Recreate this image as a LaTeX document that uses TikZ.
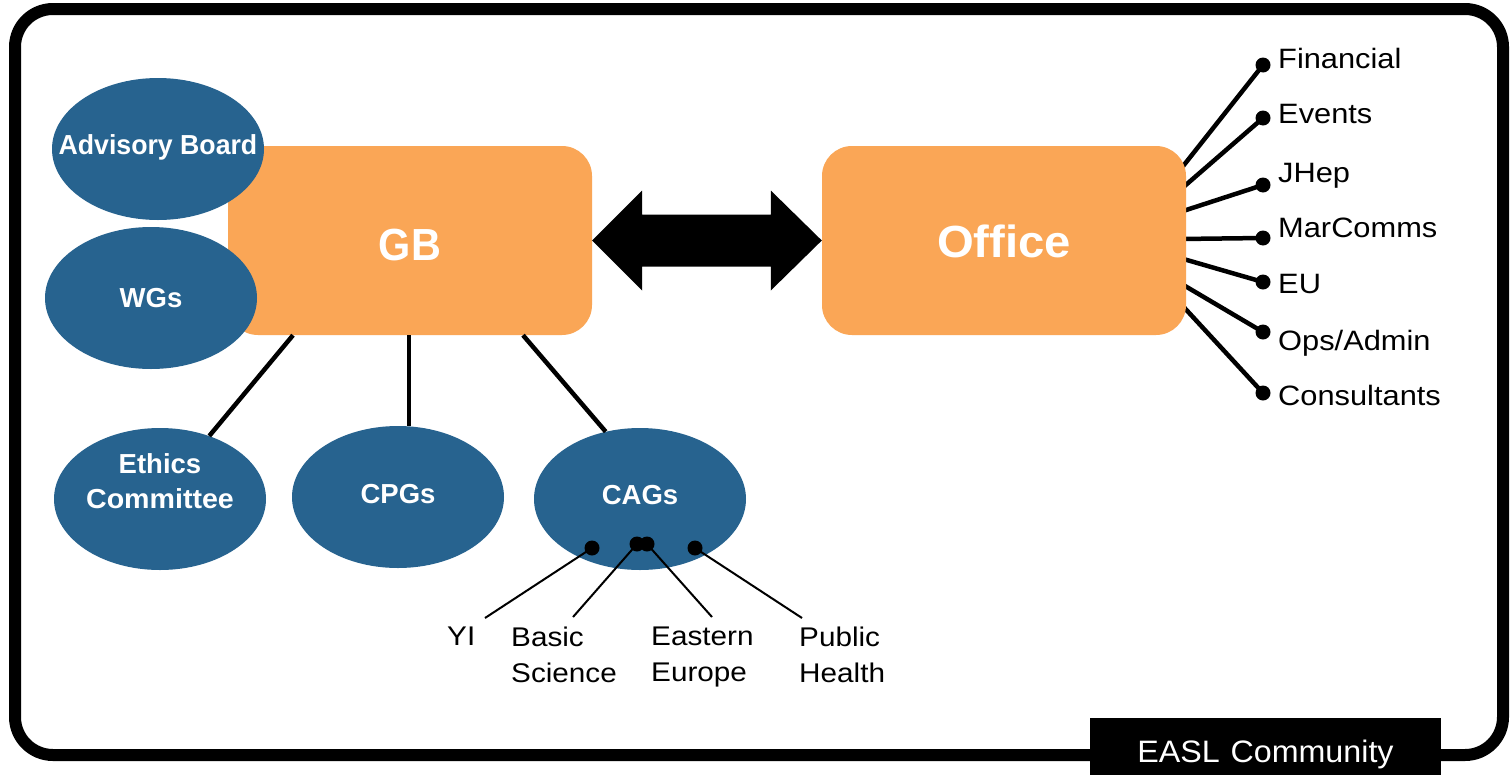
\documentclass[tikz,border=0pt]{standalone}
\usepackage{fontspec}
\setmainfont{Liberation Sans}
\usetikzlibrary{shapes.geometric,calc}
\definecolor{boxorange}{RGB}{250,166,86}
\definecolor{ellblue}{RGB}{39,99,143}
\newcommand{\hw}[1]{\scalebox{1.1}[1]{#1}}
\begin{document}
\begin{tikzpicture}[x=1pt,y=-1pt,
  orgbox/.style={fill=boxorange, rounded corners=30pt, minimum width=364pt, minimum height=189pt, inner sep=0pt, text=white, font=\fontsize{45}{54}\selectfont\bfseries},
  blob/.style={ellipse, fill=ellblue, minimum width=212pt, minimum height=142pt, inner sep=0pt},
  blobtext/.style={text=white, font=\fontsize{27.5}{34.5}\selectfont\bfseries, align=center, inner sep=0pt},
  link/.style={line width=4.5pt},
  cagline/.style={line width=2pt},
  dotnode/.style={circle, fill=black, minimum size=15pt, inner sep=0pt},
  lbl/.style={font=\fontsize{28}{36}\selectfont, anchor=base west, inner sep=0pt},
  sublbl/.style={font=\fontsize{27}{36}\selectfont, anchor=north west, inner sep=0pt, align=left},
  frame/.style={line width=12pt, rounded corners=38pt}
]
\useasboundingbox (0,0) rectangle (1510,774);
\fill[white] (0,0) rectangle (1510,774);
% outer frame
\draw[frame] (15,9) rectangle (1503,755);
\node[fill=black, text=white, anchor=base, inner sep=0pt, text height=44pt, text depth=20pt, text width=351pt, align=center, font=\fontsize{31}{36}\selectfont] (easl) at (1265.5,762) {\scalebox{1.04}[1]{EASL Community}};

% right list
\node[dotnode] (d1) at (1263,65) {};
\node[dotnode] (d2) at (1263,118) {};
\node[dotnode] (d3) at (1263,185) {};
\node[dotnode] (d4) at (1263,238) {};
\node[dotnode] (d5) at (1263,282) {};
\node[dotnode] (d6) at (1263,332) {};
\node[dotnode] (d7) at (1263,393) {};
\node[lbl] (l1) at (1278,68) {\hw{Financial}};
\node[lbl] (l2) at (1278,123) {\hw{Events}};
\node[lbl] (l3) at (1278,182) {\hw{JHep}};
\node[lbl] (l4) at (1278,237) {\hw{MarComms}};
\node[lbl] (l5) at (1278,293) {\hw{EU}};
\node[lbl] (l6) at (1278,350) {\hw{Ops/Admin}};
\node[lbl] (l7) at (1278,405) {\hw{Consultants}};

% boxes positions (for connectors drawn under boxes)
\coordinate (gbc) at (410,240.5);
\coordinate (offc) at (1004,240.5);
\draw[link] ($(offc)+(176,-70.5)$) -- (d1.center);
\draw[link] ($(offc)+(176,-50.5)$) -- (d2.center);
\draw[link] ($(offc)+(176,-28.5)$) -- (d3.center);
\draw[link] ($(offc)+(176,-1.5)$) -- (d4.center);
\draw[link] ($(offc)+(176,17.5)$) -- (d5.center);
\draw[link] ($(offc)+(176,42.5)$) -- (d6.center);
\draw[link] ($(offc)+(176,62.5)$) -- (d7.center);

% boxes
\node[orgbox] (gb) at (gbc) {\raisebox{-20pt}[0pt][0pt]{\scalebox{0.92}[1]{GB}}};
\node[orgbox] (office) at (offc) {\raisebox{-17pt}[0pt][0pt]{\scalebox{1.05}[1]{Office}}};

% double arrow
\fill (gb.east) -- ($(gb.east)+(50,-50)$) -- ($(gb.east)+(50,-26)$)
  -- ($(office.west)+(-51,-26)$) -- ($(office.west)+(-51,-50)$) -- (office.west)
  -- ($(office.west)+(-51,50)$) -- ($(office.west)+(-51,26)$)
  -- ($(gb.east)+(50,26)$) -- ($(gb.east)+(50,50)$) -- cycle;

% ellipses
\node[blob, label={[blobtext, yshift=2pt]center:\scalebox{0.97}[1]{Advisory Board}}] (adv) at (158,149) {};
\node[blob, label={[blobtext]center:WGs}] (wgs) at (151,298) {};
\node[blob, label={[blobtext, yshift=18pt]center:Ethics\\\scalebox{1.04}[1]{Committee}}] (ethics) at (160,499) {};
\node[blob, label={[blobtext, yshift=3pt]center:CPGs}] (cpgs) at (398,497) {};
\node[blob, label={[blobtext, yshift=4pt]center:CAGs}] (cags) at (640,499) {};

% GB connectors
\coordinate (g1) at ($(gb.south)+(-117,0)$);
\coordinate (g2) at ($(gb.south)+(-1,0)$);
\coordinate (g3) at ($(gb.south)+(113,0)$);
\draw[link] (g1) -- (ethics.52);
\draw[link] (g2) -- (g2 |- cpgs.north);
\draw[link] (g3) -- (cags.117);

% CAG sub-groups
\node[dotnode] (c1) at ($(cags)+(-48,49)$) {};
\node[dotnode] (c2) at ($(cags)+(-3,45)$) {};
\node[dotnode] (c3) at ($(cags)+(7,45)$) {};
\node[dotnode] (c4) at ($(cags)+(55,49)$) {};
\node[sublbl] (yi) at (447,627) {\hw{YI}};
\node[sublbl] (basic) at (511,627) {\hw{Basic}\\\hw{Science}};
\node[sublbl] (eastern) at (651,627) {\hw{Eastern}\\\hw{Europe}};
\node[sublbl] (public) at (799,627) {\hw{Public}\\\hw{Health}};
\coordinate (e1) at (485,618);
\coordinate (e2) at (573,617);
\coordinate (e3) at (712,617);
\coordinate (e4) at (802,618);
\draw[cagline] (c1.center) -- (e1);
\draw[cagline] (c2.center) -- (e2);
\draw[cagline] (c3.center) -- (e3);
\draw[cagline] (c4.center) -- (e4);
\end{tikzpicture}
\end{document}
